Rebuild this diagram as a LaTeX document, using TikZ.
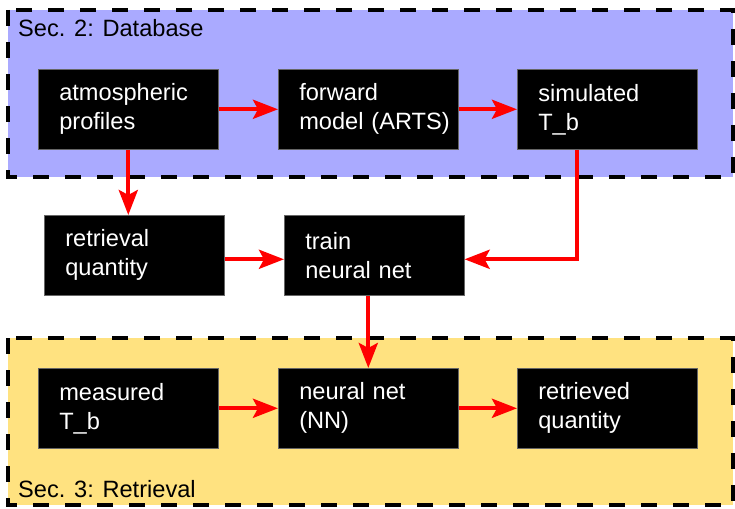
\documentclass[tikz,border=0pt]{standalone}
\usepackage{fontspec}
\setmainfont{Liberation Sans}
\usetikzlibrary{arrows.meta}
\definecolor{dbblue}{RGB}{170,170,255}
\definecolor{retyellow}{RGB}{255,226,128}
\definecolor{arrred}{RGB}{255,0,0}
\begin{document}
\begin{tikzpicture}[x=1pt,y=-1pt,
  box/.style={fill=black, draw=black!60, line width=0.6pt, anchor=north west,
    minimum width=180pt, minimum height=80pt, text width=138pt,
    inner xsep=21pt, inner ysep=0pt, align=left, text=white,
    font=\fontsize{23.6}{29}\selectfont},
  section/.style={draw=black, line width=4pt, dash pattern=on 16pt off 16pt},
  sectitle/.style={anchor=base west, inner sep=0pt, font=\fontsize{23.6}{29}\selectfont},
  conn/.style={draw=arrred, line width=4pt, -{Stealth[length=25pt,width=19pt,inset=5pt]}}]
\useasboundingbox (0,0) rectangle (735,508);
% sections
\path[section, fill=dbblue] (8,10) rectangle (733,177);
\path[section, fill=retyellow] (8,338) rectangle (733,505);
\node[sectitle] (dbtitle) at (18,37) {Sec. 2: Database};
\node[sectitle] (rettitle) at (18,497) {Sec. 3: Retrieval};
% boxes
\node[box] (atm) at (38,69) {atmospheric\\profiles};
\node[box] (fwd) at (278,69) {forward\\model~(ARTS)};
\node[box] (sim) at (517,69) {simulated\\T\_b};
\node[box] (rq) at (44,215) {retrieval\\quantity};
\node[box, minimum width=179pt] (train) at (284,215) {train\\neural~net};
\node[box] (meas) at (38,368) {measured\\T\_b};
\node[box] (nn) at (278,368) {neural net\\(NN)};
\node[box] (rtv) at (517,368) {retrieved\\quantity};
% connectors
\draw[conn] (atm.east) -- (fwd.west);
\draw[conn] (fwd.east) -- (sim.west);
\draw[conn] (atm.south) -- (atm.south |- rq.north);
\draw[conn] ([yshift=-4pt]rq.east) -- ([yshift=-4pt]train.west);
\draw[conn] ([xshift=-30pt]sim.south) |- ([yshift=-4pt]train.east);
\draw[conn] (train.south -| nn.north) -- (nn.north);
\draw[conn] (meas.east) -- (nn.west);
\draw[conn] (nn.east) -- (rtv.west);
\end{tikzpicture}
\end{document}
